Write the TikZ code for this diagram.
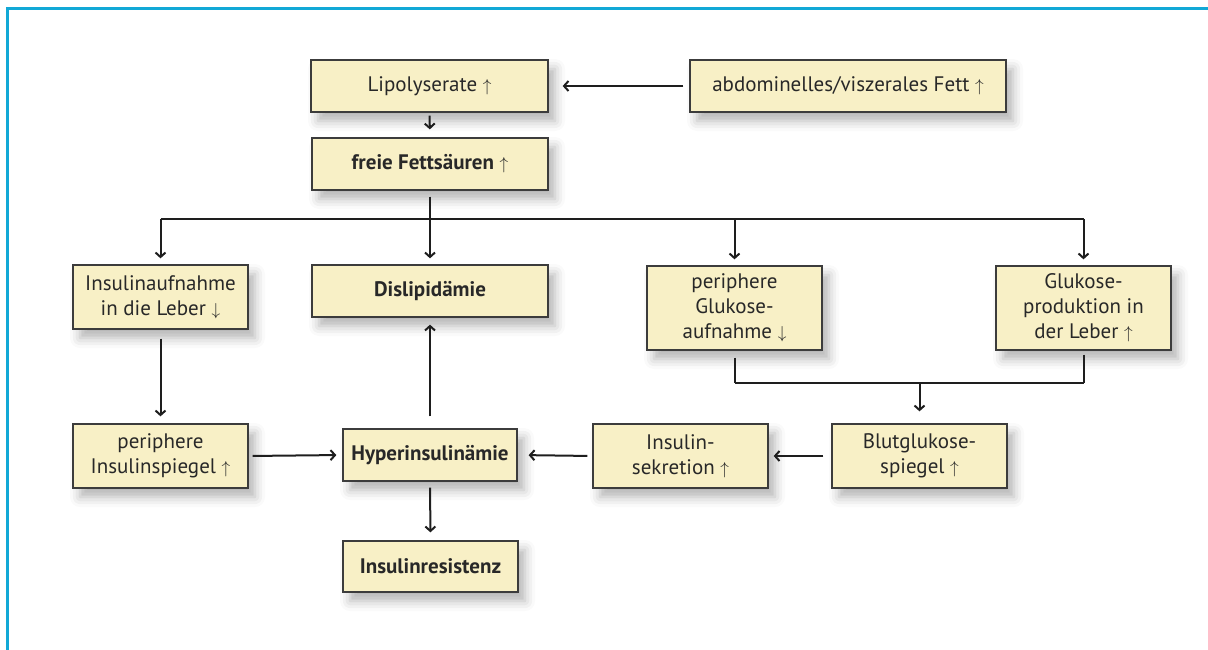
\documentclass[tikz,border=0pt]{standalone}
\usepackage{fontspec}
\setmainfont{PT Sans}
\usetikzlibrary{arrows.meta,shadows.blur}
\definecolor{framecol}{RGB}{18,168,214}
\definecolor{boxfill}{RGB}{248,240,198}
\definecolor{boxline}{RGB}{60,60,60}
\definecolor{txt}{RGB}{40,40,40}
\definecolor{lin}{RGB}{30,30,30}
\newcommand{\uparr}{~{\fontsize{19}{20}\selectfont$\uparrow$}}
\newcommand{\dnarr}{~{\fontsize{19}{20}\selectfont$\downarrow$}}
\tikzset{
  box/.style={draw=boxline, line width=1.3pt, fill=boxfill, text=txt, align=center,
    inner sep=0pt, font=\fontsize{21}{25}\selectfont,
    blur shadow={shadow xshift=7pt, shadow yshift=-9pt, shadow blur radius=10pt, shadow opacity=30}},
  conn/.style={draw=lin, line width=2pt},
  arr/.style={conn, -{Straight Barb[length=4.5pt,width=10pt]}},
}
\begin{document}
\begin{tikzpicture}[x=1pt,y=-1pt]
\useasboundingbox (0,0) rectangle (1208,650);
\draw[line width=3pt, framecol] (7,650) -- (7,9) -- (1208,9);

\node[box, minimum width=237pt, minimum height=52pt] (lipo) at (429.5,86) {Lipolyserate\uparr};
\node[box, minimum width=316pt, minimum height=52pt] (fett) at (848,86) {abdominelles/viszerales Fett\uparr};
\node[box, minimum width=236pt, minimum height=52pt] (ffa) at (430,164) {\textbf{freie Fettsäuren}\uparr};
\node[box, minimum width=175pt, minimum height=64pt] (insauf) at (160.5,297) {Insulinaufnahme\\in die Leber\dnarr};
\node[box, minimum width=236pt, minimum height=52pt] (disl) at (430,291) {\textbf{Dislipidämie}};
\node[box, minimum width=175pt, minimum height=84pt] (pgluk) at (734.5,308) {periphere\\Glukose-\\aufnahme\dnarr};
\node[box, minimum width=175pt, minimum height=84pt] (gprod) at (1083.5,308) {Glukose-\\produktion in\\der Leber\uparr};
\node[box, minimum width=175pt, minimum height=64pt] (pinsp) at (160.5,456) {periphere\\Insulinspiegel\uparr};
\node[box, minimum width=174pt, minimum height=52pt] (hyper) at (430,455) {\textbf{Hyperinsulinämie}};
\node[box, minimum width=175pt, minimum height=64pt] (inssek) at (680.5,456) {Insulin-\\sekretion\uparr};
\node[box, minimum width=175pt, minimum height=64pt] (blut) at (919.5,456) {Blutglukose-\\spiegel\uparr};
\node[box, minimum width=175pt, minimum height=51pt] (insres) at (430.5,566.5) {\textbf{Insulinresistenz}};

\coordinate (j1) at (430,219);
\coordinate (j2) at (919.5,383);

\draw[arr, shorten <=6pt, shorten >=14pt] (fett.west) -- (lipo.east);
\draw[arr, shorten <=3pt, shorten >=8pt] (lipo.south) -- (ffa.north);
\draw[conn, shorten <=6pt] (ffa.south) -- (j1);
\draw[conn] (insauf.north |- j1) -- (gprod.north |- j1);
\draw[arr, shorten >=6pt] (insauf.north |- j1) -- (insauf.north);
\draw[arr, shorten >=6pt] (j1) -- (disl.north);
\draw[arr, shorten >=6pt] (pgluk.north |- j1) -- (pgluk.north);
\draw[arr, shorten >=6pt] (gprod.north |- j1) -- (gprod.north);

\draw[arr, shorten <=9pt, shorten >=7pt] (insauf.south) -- (pinsp.north);
\draw[arr, shorten <=4pt, shorten >=6pt] (pinsp.east) -- (hyper.west);
\draw[arr, shorten <=12pt, shorten >=7pt] (hyper.north) -- (disl.south);
\draw[arr, shorten <=6pt, shorten >=8pt] (hyper.south) -- (insres.north);
\draw[arr, shorten <=5pt, shorten >=11pt] (inssek.west) -- (hyper.east);
\draw[arr, shorten <=8pt, shorten >=5pt] (blut.west) -- (inssek.east);

\draw[conn, shorten <=7pt] (pgluk.south) -- (pgluk.south |- j2);
\draw[conn, shorten <=4pt] (gprod.south) -- (gprod.south |- j2);
\draw[conn] (pgluk.south |- j2) -- (gprod.south |- j2);
\draw[arr, shorten >=12pt] (j2) -- (blut.north);
\end{tikzpicture}
\end{document}
